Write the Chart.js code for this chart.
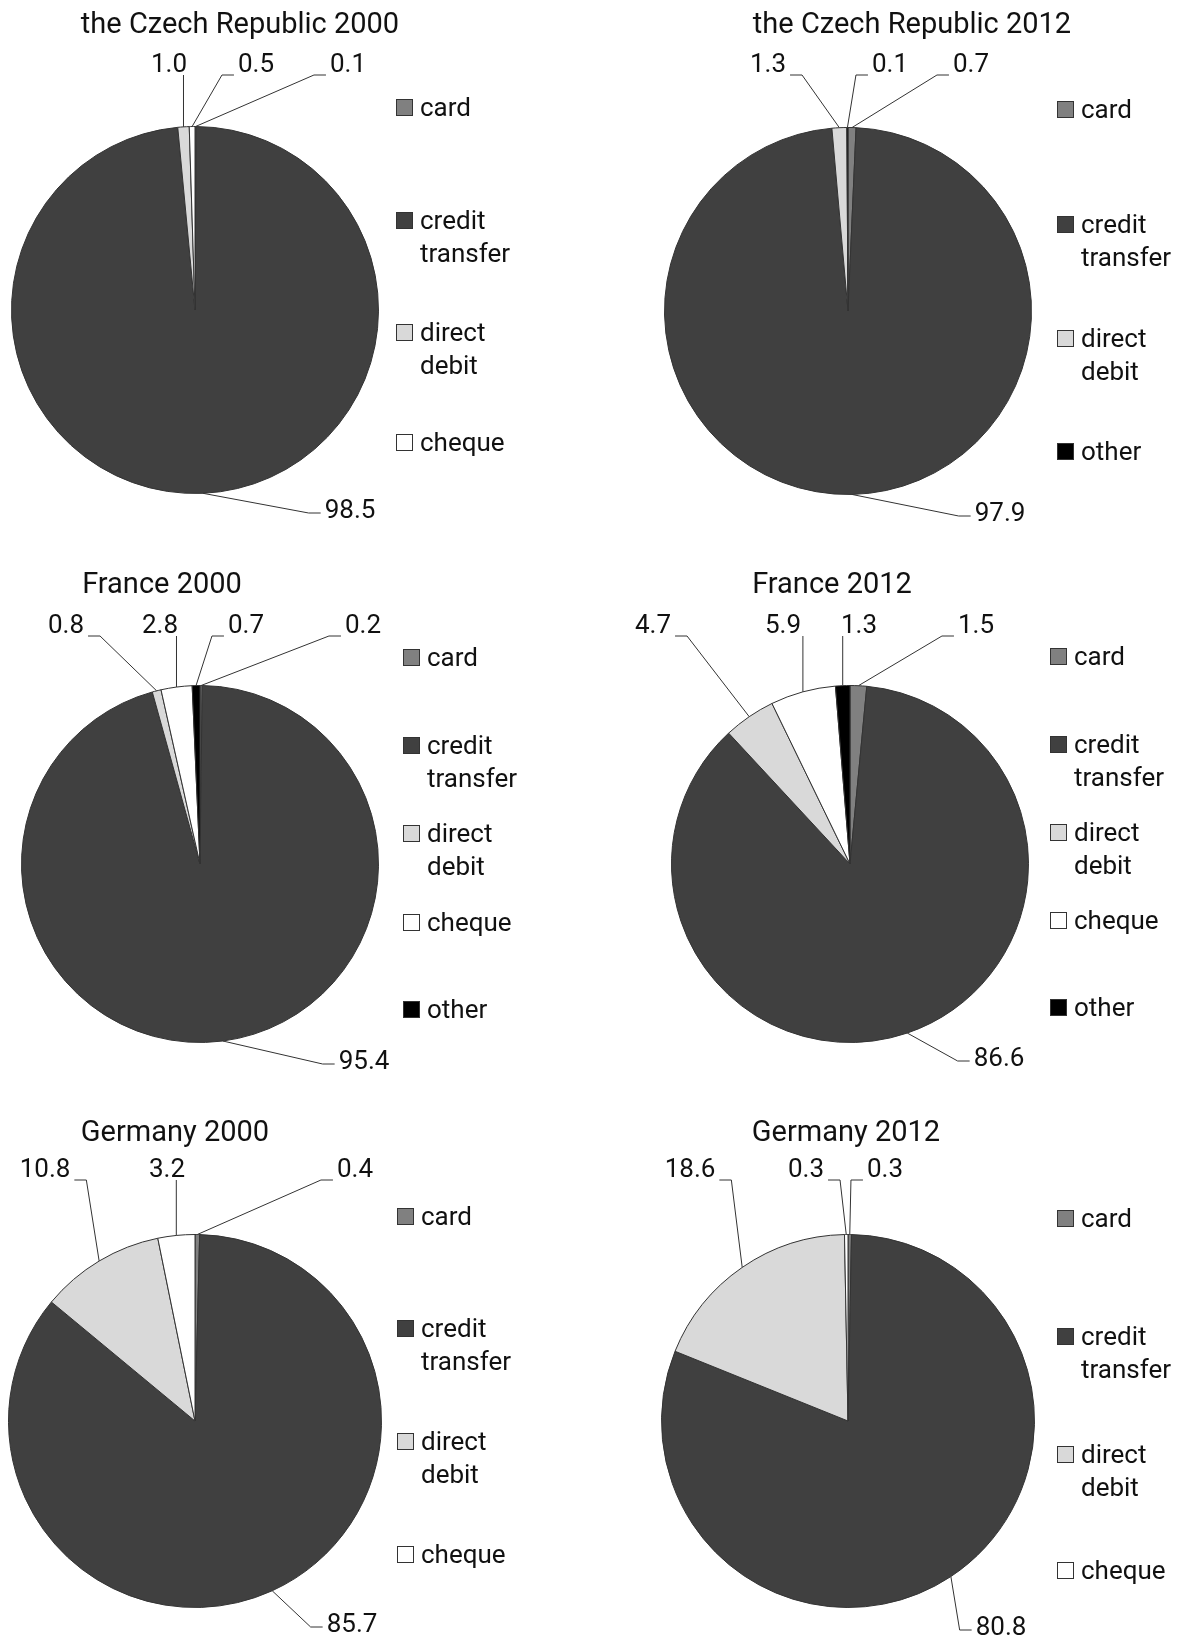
<!DOCTYPE html>
<html>
<head>
<meta charset="utf-8">
<script src="https://cdn.jsdelivr.net/npm/chart.js@4.4.0/dist/chart.umd.min.js"></script>
<style>
  body { margin: 0; background: #fff; width: 1184px; height: 1639px; position: relative; overflow: hidden; }
  canvas { position: absolute; }
</style>
</head>
<body>
<canvas id="p1"></canvas>
<canvas id="p2"></canvas>
<canvas id="p3"></canvas>
<canvas id="p4"></canvas>
<canvas id="p5"></canvas>
<canvas id="p6"></canvas>
<script>
// categories
const catsCheque = ['card', 'credit transfer', 'direct debit', 'cheque'];
const catsOther = ['card', 'credit transfer', 'direct debit', 'other'];
const catsAll = ['card', 'credit transfer', 'direct debit', 'cheque', 'other'];

// shares of payments (%)
const czech2000 = [0.1, 98.5, 1.0, 0.5];
const czech2012 = [0.7, 97.9, 1.3, 0.1];
const france2000 = [0.2, 95.4, 0.8, 2.8, 0.7];
const france2012 = [1.5, 86.6, 4.7, 5.9, 1.3];
const germany2000 = [0.4, 85.7, 10.8, 3.2];
const germany2012 = [0.3, 80.8, 18.6, 0.3];

const colorOf = {
  'card': '#808080',
  'credit transfer': '#404040',
  'direct debit': '#d9d9d9',
  'cheque': '#ffffff',
  'other': '#000000'
};

const FONT = 'Roboto, "DejaVu Sans", sans-serif';

// panel layout (pixel positions only)
const panels = [
  { id: 'p1', title: 'the Czech Republic 2000', cats: catsCheque, values: czech2000,
    left: 0, top: 0, w: 592, h: 545, cx: 195, cy: 310, r: 184,
    titleX: 240, titleY: 23, legendX: 396, legendY: [107, 220, 332, 442],
    labelPos: [[348, 63], [350, 509], [169, 63], [256, 63]] },
  { id: 'p2', title: 'the Czech Republic 2012', cats: catsOther, values: czech2012,
    left: 592, top: 0, w: 592, h: 545, cx: 256, cy: 311, r: 184,
    titleX: 320, titleY: 23, legendX: 465, legendY: [109, 224, 338, 451],
    labelPos: [[379, 63], [408, 512], [176, 63], [298, 63]] },
  { id: 'p3', title: 'France 2000', cats: catsAll, values: france2000,
    left: 0, top: 545, w: 592, h: 545, cx: 200, cy: 319, r: 179,
    titleX: 162, titleY: 38, legendX: 403, legendY: [112, 200, 288, 377, 464],
    labelPos: [[363, 79], [364, 515], [66, 79], [160, 79], [246, 79]] },
  { id: 'p4', title: 'France 2012', cats: catsAll, values: france2012,
    left: 592, top: 545, w: 592, h: 545, cx: 258, cy: 319, r: 179,
    titleX: 240, titleY: 38, legendX: 458, legendY: [111, 199, 287, 375, 462],
    labelPos: [[384, 79], [407, 512], [61, 79], [191, 79], [267, 79]] },
  { id: 'p5', title: 'Germany 2000', cats: catsCheque, values: germany2000,
    left: 0, top: 1090, w: 592, h: 549, cx: 195, cy: 331, r: 187,
    titleX: 175, titleY: 41, legendX: 397, legendY: [126, 238, 351, 464],
    labelPos: [[355, 78], [352, 533], [45, 78], [167, 78]] },
  { id: 'p6', title: 'Germany 2012', cats: catsCheque, values: germany2012,
    left: 592, top: 1090, w: 592, h: 549, cx: 256, cy: 331, r: 187,
    titleX: 254, titleY: 41, legendX: 465, legendY: [128, 246, 364, 480],
    labelPos: [[293, 78], [409, 536], [98, 78], [214, 78]] }
];

// title, legend and leader-line labels
const decor = {
  id: 'decor',
  afterDraw(chart, args, o) {
    const ctx = chart.ctx;
    const ds = chart.data.datasets[0];
    const meta = chart.getDatasetMeta(0);
    ctx.save();
    ctx.fillStyle = '#111';
    ctx.textBaseline = 'middle';
    ctx.textAlign = 'center';
    ctx.font = '29px ' + FONT;
    ctx.fillText(o.title, o.titleX, o.titleY + 3);

    // legend
    ctx.font = '26px ' + FONT;
    ctx.textAlign = 'left';
    chart.data.labels.forEach((lab, i) => {
      const y = o.legendY[i];
      ctx.fillStyle = ds.backgroundColor[i];
      ctx.fillRect(o.legendX, y - 8, 17, 17);
      ctx.strokeStyle = '#333';
      ctx.lineWidth = 1;
      ctx.strokeRect(o.legendX + 0.5, y - 7.5, 16, 16);
      ctx.fillStyle = '#111';
      lab.split(' ').forEach((word, k) => {
        ctx.fillText(word, o.legendX + 24, y + 2 + k * 33);
      });
    });

    // value labels with leader lines
    ctx.strokeStyle = '#333';
    ctx.lineWidth = 1;
    meta.data.forEach((arc, i) => {
      const p = arc.getProps(['x', 'y', 'startAngle', 'endAngle', 'outerRadius'], true);
      const mid = (p.startAngle + p.endAngle) / 2;
      const px = p.x + Math.cos(mid) * p.outerRadius;
      const py = p.y + Math.sin(mid) * p.outerRadius;
      const lx = o.labelPos[i][0], ly = o.labelPos[i][1];
      const txt = ds.data[i].toFixed(1);
      ctx.textAlign = 'center';
      const tw = ctx.measureText(txt).width;
      const l = lx - tw / 2, rt = lx + tw / 2;
      const ay = ly < p.y ? ly + 12 : ly + 4;
      ctx.beginPath();
      if (px >= l - 2 && px <= rt + 6) {
        ctx.moveTo(px, py);
        ctx.lineTo(px, ay);
      } else if (px < l) {
        const ax = l - 4, ex = Math.max(ax - 12, px);
        ctx.moveTo(px, py);
        ctx.lineTo(ex, ay);
        ctx.lineTo(ax, ay);
      } else {
        const ax = rt + 4, ex = Math.min(ax + 12, px);
        ctx.moveTo(px, py);
        ctx.lineTo(ex, ay);
        ctx.lineTo(ax, ay);
      }
      ctx.stroke();
      ctx.fillStyle = '#111';
      ctx.fillText(txt, lx, ly + 2);
    });
    ctx.restore();
  }
};

panels.forEach((pn) => {
  const cv = document.getElementById(pn.id);
  cv.width = pn.w;
  cv.height = pn.h;
  cv.style.left = pn.left + 'px';
  cv.style.top = pn.top + 'px';

  new Chart(cv, {
    type: 'pie',
    data: {
      labels: pn.cats,
      datasets: [{
        data: pn.values,
        backgroundColor: pn.cats.map((c) => colorOf[c]),
        borderColor: '#333',
        borderWidth: 1
      }]
    },
    options: {
      responsive: false,
      animation: false,
      events: [],
      layout: {
        padding: {
          left: pn.cx - pn.r,
          top: pn.cy - pn.r,
          right: pn.w - pn.cx - pn.r,
          bottom: pn.h - pn.cy - pn.r
        }
      },
      plugins: {
        legend: { display: false },
        tooltip: { enabled: false },
        decor: pn
      }
    },
    plugins: [decor]
  });
});
</script>
</body>
</html>
